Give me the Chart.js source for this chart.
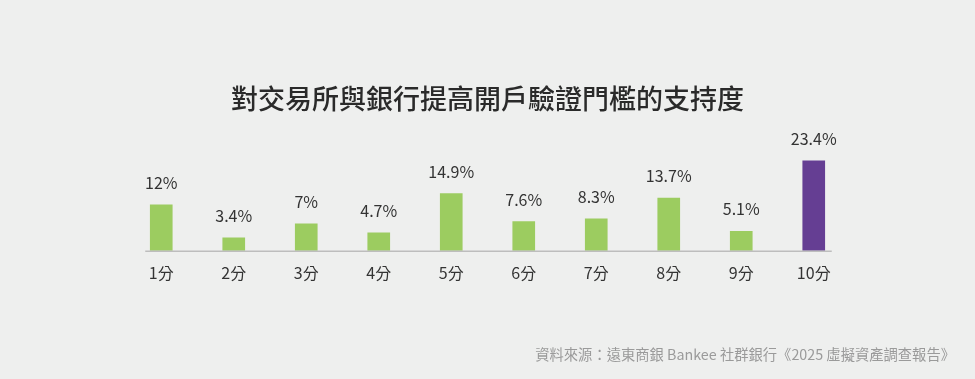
<!DOCTYPE html>
<html><head><meta charset="utf-8">
<script src="https://cdn.jsdelivr.net/npm/chart.js@4/dist/chart.umd.min.js"></script>
<style>html,body{margin:0;padding:0;background:#eeefee;}#wrap{width:975px;height:379px;}</style>
</head><body><div id="wrap"><canvas id="c" width="975" height="379"></canvas></div>
<script>
const categories = ['1分','2分','3分','4分','5分','6分','7分','8分','9分','10分'];
const values = [12, 3.4, 7, 4.7, 14.9, 7.6, 8.3, 13.7, 5.1, 23.4];
const valueLabels = ['12%','3.4%','7%','4.7%','14.9%','7.6%','8.3%','13.7%','5.1%','23.4%'];
const titleText = '對交易所與銀行提高開戶驗證門檻的支持度';
const sourceText = '資料來源：遠東商銀 Bankee 社群銀行《2025 虛擬資產調查報告》';

const GREEN = '#9ccc60', PURPLE = '#653e93';
const FONT = "'Noto Sans CJK TC','Noto Sans',sans-serif";

const extras = {
  id: 'extras',
  afterDatasetsDraw(chart) {
    const ctx = chart.ctx, meta = chart.getDatasetMeta(0);
    const y0 = chart.scales.y.getPixelForValue(0);
    const first = meta.data[0], last = meta.data[meta.data.length-1];
    ctx.save();
    ctx.strokeStyle = '#bdbdbd'; ctx.lineWidth = 1.5;
    ctx.beginPath();
    ctx.moveTo(first.x - first.width/2 - 5, y0 + 0.5);
    ctx.lineTo(last.x + last.width/2 + 7, y0 + 0.5);
    ctx.stroke();
    ctx.fillStyle = '#333333';
    ctx.font = '16px ' + FONT;
    ctx.textAlign = 'center'; ctx.textBaseline = 'middle';
    meta.data.forEach((bar, i) => {
      ctx.fillText(valueLabels[i], bar.x, bar.y - 22);
    });
    ctx.fillStyle = '#9a9a9a';
    ctx.font = '14.3px ' + FONT;
    ctx.textAlign = 'right';
    ctx.fillText(sourceText, chart.width - 20, 355);
    ctx.restore();
  }
};

new Chart(document.getElementById('c'), {
  type: 'bar',
  data: {
    labels: categories,
    datasets: [{
      data: values,
      backgroundColor: values.map((v, i) => i === values.length - 1 ? PURPLE : GREEN),
      barThickness: 22,
      borderWidth: 0
    }]
  },
  options: {
    responsive: false,
    animation: false,
    layout: { padding: { left: 125, right: 125, top: 0, bottom: 83 } },
    plugins: {
      legend: { display: false },
      tooltip: { enabled: false },
      title: {
        display: true, text: titleText, color: '#2a2a2a',
        font: { family: FONT, size: 27, weight: '500' },
        padding: { top: 83, bottom: 1 }
      }
    },
    scales: {
      x: {
        grid: { display: false, drawTicks: false },
        border: { display: false },
        ticks: { color: '#333333', font: { family: FONT, size: 16 }, padding: 13 }
      },
      y: { display: false, min: 0, max: 35 }
    }
  },
  plugins: [extras]
});
</script></body></html>
